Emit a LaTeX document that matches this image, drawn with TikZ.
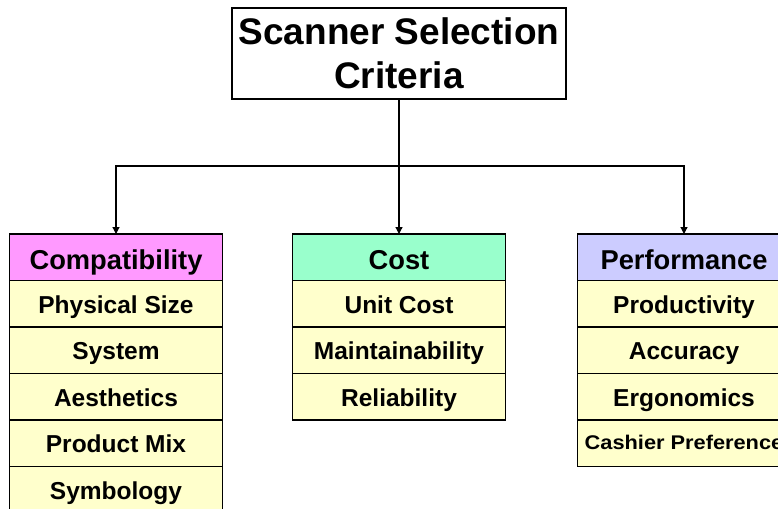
\documentclass[tikz,border=0pt]{standalone}
\usepackage{fontspec}
\setmainfont{Liberation Sans}
\usetikzlibrary{arrows.meta,positioning}
\definecolor{hdrpink}{HTML}{FF99FF}
\definecolor{hdrgreen}{HTML}{99FFCC}
\definecolor{hdrblue}{HTML}{CCCCFF}
\definecolor{rowfill}{HTML}{FFFFCC}
\tikzset{
  x=1pt, y=1pt,
  cell/.style={draw, line width=1.2pt, minimum width=213pt, minimum height=46.5pt,
               inner sep=0pt, outer sep=0pt, align=center, text depth=0pt},
  header/.style={cell, text height=24.5pt, font=\bfseries\fontsize{27.3}{30}\selectfont},
  item/.style={cell, fill=rowfill, text height=18.7pt, font=\bfseries\fontsize{24.5}{28}\selectfont},
  smallitem/.style={item, text height=11.5pt,
    font=\bfseries\fontsize{19.8}{23}\selectfont\addfontfeatures{FakeStretch=1.1}},
  link/.style={line width=1.2pt},
  arrowlink/.style={link, -{Triangle[length=7pt,width=7pt]}}
}
\begin{document}
\begin{tikzpicture}
\useasboundingbox (0,0) rectangle (778,-508);
\clip (0,0) rectangle (778,-508);
\fill[white] (0,0) rectangle (778,-508);

% root
\node[draw, line width=1.2pt, minimum width=334pt, minimum height=91pt, inner sep=0pt,
      align=center, font=\bfseries\fontsize{37}{44}\selectfont] (root) at (399,-53.5)
      {Scanner Selection\\Criteria};

% compatibility column
\node[header, fill=hdrpink, anchor=north] (compat) at (116,-234) {Compatibility};
\node[item, below=0pt of compat] (c1) {Physical Size};
\node[item, below=0pt of c1] (c2) {System};
\node[item, below=0pt of c2] (c3) {Aesthetics};
\node[item, below=0pt of c3] (c4) {Product Mix};
\node[item, below=0pt of c4] (c5) {Symbology};

% cost column
\node[header, fill=hdrgreen, anchor=north] (cost) at (399,-234) {Cost};
\node[item, below=0pt of cost] (k1) {Unit Cost};
\node[item, below=0pt of k1] (k2) {Maintainability};
\node[item, below=0pt of k2] (k3) {Reliability};

% performance column
\node[header, fill=hdrblue, anchor=north] (perf) at (684,-234) {Performance};
\node[item, below=0pt of perf] (p1) {Productivity};
\node[item, below=0pt of p1] (p2) {Accuracy};
\node[item, below=0pt of p2] (p3) {Ergonomics};
\node[smallitem, below=0pt of p3] (p4) {Cashier Preference};

% connectors
\coordinate (split) at (399,-166);
\draw[arrowlink] (root.south) -- (cost.north);
\draw[arrowlink] (split) -| (compat.north);
\draw[arrowlink] (split) -| (perf.north);
\end{tikzpicture}
\end{document}
